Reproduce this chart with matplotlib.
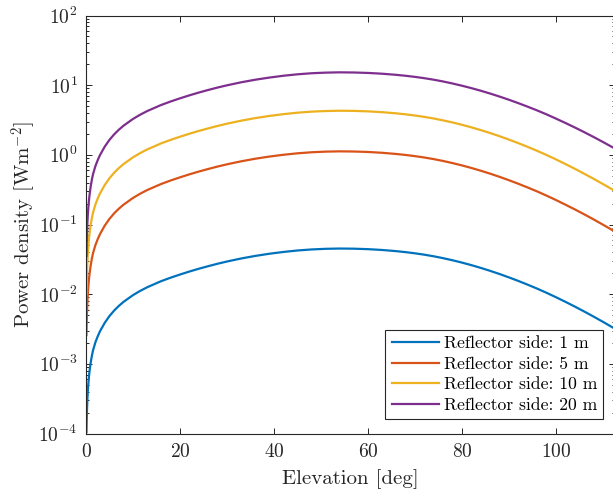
"""
Power density vs elevation for different reflector sizes
"""
import math
import matplotlib
matplotlib.use('Agg')
import matplotlib.pyplot as plt
import matplotlib.ticker as mticker

# Values
elevation = [0.1, 0.15, 0.2, 0.3, 0.4, 0.5, 0.65, 0.8, 1.0, 1.25, 1.5, 2.0, 2.5, 3.0, 4.0,
             5.0, 6.0, 7.0, 8.0, 10, 11.5, 13, 16, 18, 20, 22, 24, 26, 28, 30, 33, 36, 39,
             42, 45, 48, 51, 54, 57, 60, 63, 66, 68, 70, 72, 74, 76, 78, 80, 82, 84, 86,
             88, 90, 92, 94, 96, 98, 100, 102, 104, 106, 108, 110, 112.2]

side_1m = [1.044e-4, 1.565e-4, 2.087e-4, 3.130e-4, 4.173e-4, 5.218e-4, 6.782e-4, 8.349e-4,
           1.043e-3, 1.304e-3, 1.565e-3, 2.039e-3, 2.490e-3, 2.954e-3, 3.892e-3, 4.862e-3,
           5.833e-3, 6.799e-3, 7.765e-3, 9.689e-3, 1.112e-2, 1.255e-2, 1.538e-2, 1.724e-2,
           1.914e-2, 2.113e-2, 2.317e-2, 2.523e-2, 2.735e-2, 2.944e-2, 3.251e-2, 3.540e-2,
           3.802e-2, 4.036e-2, 4.236e-2, 4.385e-2, 4.477e-2, 4.519e-2, 4.495e-2, 4.426e-2,
           4.309e-2, 4.144e-2, 4.011e-2, 3.858e-2, 3.686e-2, 3.494e-2, 3.285e-2, 3.065e-2,
           2.838e-2, 2.609e-2, 2.382e-2, 2.160e-2, 1.945e-2, 1.739e-2, 1.546e-2, 1.366e-2,
           1.200e-2, 1.045e-2, 9.036e-3, 7.765e-3, 6.637e-3, 5.638e-3, 4.763e-3, 4.001e-3,
           3.284e-3]

side_5m = [2.592e-3, 3.886e-3, 5.182e-3, 7.772e-3, 1.0362e-2, 1.2956e-2, 1.684e-2, 2.073e-2,
           2.590e-2, 3.238e-2, 3.886e-2, 5.063e-2, 6.183e-2, 7.335e-2, 9.664e-2, 0.1207,
           0.1448, 0.1688, 0.1928, 0.2406, 0.2761, 0.3116, 0.3819, 0.4281, 0.4752, 0.5247,
           0.5753, 0.6265, 0.6791, 0.7310, 0.8072, 0.8790, 0.9440, 1.0021, 1.0518, 1.0888,
           1.1116, 1.1221, 1.1161, 1.0990, 1.0699, 1.0290, 0.9959, 0.9579, 0.9152, 0.8676,
           0.8157, 0.7610, 0.7047, 0.6478, 0.5915, 0.5363, 0.4829, 0.4318, 0.3839, 0.3392,
           0.2980, 0.2595, 0.2244, 0.1928, 0.1648, 0.1400, 0.1183, 0.0993, 0.0815]

side_10m = [9.924e-3, 1.4877e-2, 1.984e-2, 2.975e-2, 3.967e-2, 4.960e-2, 6.447e-2, 7.937e-2,
            9.915e-2, 0.1240, 0.1488, 0.1938, 0.2367, 0.2808, 0.3700, 0.4622, 0.5545, 0.6463,
            0.7381, 0.9210, 1.0571, 1.1930, 1.4620, 1.6388, 1.8194, 2.0086, 2.2025, 2.3984,
            2.5999, 2.7986, 3.0904, 3.3651, 3.6142, 3.8366, 4.0267, 4.1684, 4.2558, 4.2958,
            4.2729, 4.2074, 4.0961, 3.9393, 3.8129, 3.6674, 3.5039, 3.3214, 3.1227, 2.9136,
            2.6978, 2.4801, 2.2643, 2.0533, 1.8489, 1.6531, 1.4696, 1.2985, 1.1407, 0.9934,
            0.8590, 0.7381, 0.6309, 0.5359, 0.4528, 0.3803, 0.3122]

side_20m = [3.530e-2, 5.291e-2, 7.056e-2, 0.1058, 0.1411, 0.1764, 0.2293, 0.2823, 0.3526,
            0.4409, 0.5291, 0.6894, 0.8419, 0.9987, 1.3159, 1.6438, 1.9721, 2.2987, 2.6253,
            3.2759, 3.7597, 4.2432, 5.1999, 5.8288, 6.471, 7.145, 7.834, 8.531, 9.247, 9.954,
            10.99, 11.97, 12.85, 13.65, 14.32, 14.83, 15.14, 15.28, 15.20, 14.98, 14.60,
            14.07, 13.64, 13.15, 12.59, 11.97, 11.29, 10.56, 9.817, 9.064, 8.316, 7.576,
            6.858, 6.168, 5.512, 4.902, 4.335, 3.803, 3.310, 2.867, 2.470, 2.116, 1.803,
            1.527, 1.266]

labels = ['Reflector side: 1 m', 'Reflector side: 5 m',
          'Reflector side: 10 m', 'Reflector side: 20 m']
colors = ['#0072BD', '#D95319', '#EDB120', '#7E2F8E']


def plot_power_density() -> None:
    plt.rcParams['mathtext.fontset'] = 'cm'
    W, H = 613, 493
    fig = plt.figure(figsize=(W / 100, H / 100), dpi=100)
    ax = fig.add_axes([86 / W, (H - 433.5) / H, 529 / W, 418 / H])

    for series, label, color in zip([side_1m, side_5m, side_10m, side_20m], labels, colors):
        ax.plot(elevation, series, color=color, lw=1.6, label=label)

    ax.set_yscale('log')
    ax.set_xlim(0, 112.55)
    ax.set_ylim(1e-4, 1e2)
    ax.set_xticks([0, 20, 40, 60, 80, 100])
    ax.xaxis.set_major_formatter(mticker.FuncFormatter(lambda v, p: r'$%d$' % v))
    ax.yaxis.set_major_locator(mticker.LogLocator(base=10, numticks=10))
    ax.yaxis.set_minor_locator(mticker.LogLocator(base=10, subs=range(2, 10), numticks=10))
    ax.yaxis.set_major_formatter(mticker.FuncFormatter(
        lambda v, p: r'$10^{%d}$' % round(math.log10(v))))
    ax.yaxis.set_minor_formatter(mticker.NullFormatter())

    grey = '#262626'
    for s in ax.spines.values():
        s.set_color(grey)
        s.set_linewidth(0.8)
    ax.tick_params(which='both', direction='in', top=True, right=True, colors=grey,
                   labelcolor=grey, width=0.7)
    ax.tick_params(which='major', length=4, labelsize=14, pad=6)
    ax.tick_params(which='minor', length=2.2)

    ax.set_xlabel('Elevation [deg]', fontfamily='cmr10', fontsize=15, color=grey, labelpad=6)
    ax.set_ylabel('Power density [Wm$^{-2}$]', fontfamily='cmr10', fontsize=15,
                  color=grey, labelpad=0)

    leg = ax.legend(loc='lower right', bbox_to_anchor=(603.3 / W, (H - 419.3) / H),
                    bbox_transform=fig.transFigure, borderaxespad=0,
                    prop={'family': 'cmr10', 'size': 12.7}, fancybox=False,
                    framealpha=1, edgecolor=grey, handlelength=2.7, handletextpad=0.25,
                    borderpad=0.35, labelspacing=0.3)
    leg.get_frame().set_linewidth(0.8)

    fig.savefig('out.png', dpi=100)


if __name__ == '__main__':
    plot_power_density()
